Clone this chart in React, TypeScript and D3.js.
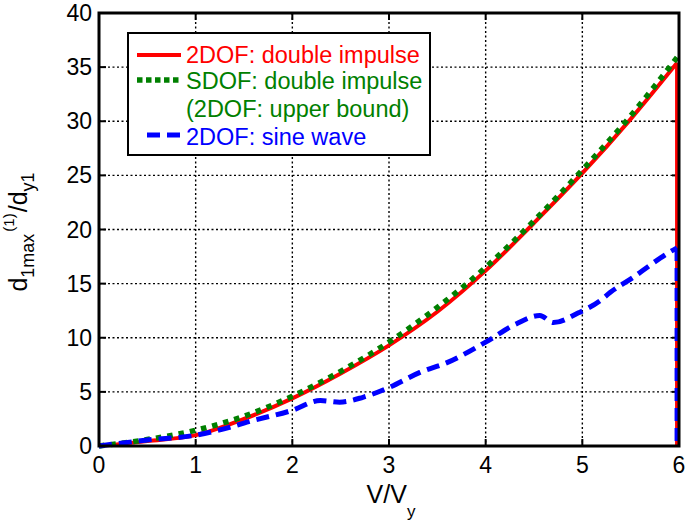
import React, { useEffect, useRef } from "react";
import * as d3 from "d3";

// V/Vy tick values and d/dy tick values
const xTicks = [0, 1, 2, 3, 4, 5, 6];
const yTicks = [0, 5, 10, 15, 20, 25, 30, 35, 40];

// 2DOF: double impulse
const impulse2dofV = [0, 0.5, 1, 1.5, 2, 2.5, 3, 3.5, 4, 4.5, 5, 5.5, 5.98];
const impulse2dofD = [0, 0.45, 1.0, 2.5, 4.4, 6.7, 9.3, 12.4, 16.2, 20.6, 25.2, 30.2, 35.4];

// SDOF: double impulse (2DOF: upper bound)
const impulseSdofV = [0, 0.5, 1, 1.5, 2, 2.5, 3, 3.5, 4, 4.5, 5, 5.5, 5.98];
const impulseSdofD = [0, 0.6, 1.45, 2.75, 4.6, 6.9, 9.6, 12.8, 16.5, 20.8, 25.5, 30.5, 35.9];

// 2DOF: sine wave
const sine2dofV = [
  0, 0.5, 1, 1.36, 1.53, 2, 2.29, 2.49, 2.73, 3, 3.32, 3.6, 4, 4.32, 4.56, 4.7,
  4.96, 5.18, 5.29, 5.53, 5.7, 5.9, 5.98,
];
const sine2dofD = [
  0, 0.55, 1.0, 1.75, 2.2, 3.3, 4.2, 4.05, 4.5, 5.4, 6.8, 7.7, 9.6, 11.3, 12.06,
  11.4, 12.3, 13.4, 14.2, 15.6, 16.7, 17.9, 18.3,
];

const W = 686;
const H = 526;
const plot = { left: 99, right: 679, top: 13, bottom: 446 };
const FONT = "'Liberation Sans', Arial, sans-serif";

const App: React.FC = () => {
  const svgRef = useRef<SVGSVGElement | null>(null);

  useEffect(() => {
    const svg = d3.select(svgRef.current);
    svg.selectAll("*").remove();

    const x = d3.scaleLinear().domain([0, 6]).range([plot.left, plot.right]);
    const y = d3.scaleLinear().domain([0, 40]).range([plot.bottom, plot.top]);

    svg
      .append("rect")
      .attr("width", W)
      .attr("height", H)
      .attr("fill", "#fff");

    // dotted grid
    const grid = svg.append("g").attr("stroke", "#000").attr("stroke-width", 1.4).attr("stroke-dasharray", "2,2.5");
    xTicks.slice(1, -1).forEach((t) => {
      grid.append("line").attr("x1", x(t)).attr("x2", x(t)).attr("y1", plot.top).attr("y2", plot.bottom);
    });
    yTicks.slice(1, -1).forEach((t) => {
      grid.append("line").attr("x1", plot.left).attr("x2", plot.right).attr("y1", y(t)).attr("y2", y(t));
    });

    // ticks, inward on all four sides
    const ticks = svg.append("g").attr("stroke", "#000").attr("stroke-width", 2);
    xTicks.forEach((t) => {
      ticks.append("line").attr("x1", x(t)).attr("x2", x(t)).attr("y1", plot.bottom).attr("y2", plot.bottom - 7);
      ticks.append("line").attr("x1", x(t)).attr("x2", x(t)).attr("y1", plot.top).attr("y2", plot.top + 7);
    });
    yTicks.forEach((t) => {
      ticks.append("line").attr("x1", plot.left).attr("x2", plot.left + 7).attr("y1", y(t)).attr("y2", y(t));
      ticks.append("line").attr("x1", plot.right).attr("x2", plot.right - 7).attr("y1", y(t)).attr("y2", y(t));
    });

    // tick labels
    svg
      .append("g")
      .selectAll("text")
      .data(xTicks)
      .join("text")
      .attr("x", (d) => x(d))
      .attr("y", 473)
      .attr("text-anchor", "middle")
      .style("font-family", FONT)
      .style("font-size", "23px")
      .text((d) => d);

    svg
      .append("g")
      .selectAll("text")
      .data(yTicks)
      .join("text")
      .attr("x", 92)
      .attr("y", (d) => y(d) + 8)
      .attr("text-anchor", "end")
      .style("font-family", FONT)
      .style("font-size", "23px")
      .text((d) => d);

    // curves
    const line = d3
      .line<[number, number]>()
      .x((d) => x(d[0]))
      .y((d) => y(d[1]))
      .curve(d3.curveMonotoneX);
    const straight = d3
      .line<[number, number]>()
      .x((d) => x(d[0]))
      .y((d) => y(d[1]));

    const zip = (vs: number[], ds: number[]) => vs.map((v, i) => [v, ds[i]] as [number, number]);
    const drop = (vs: number[], ds: number[]) => {
      const v = vs[vs.length - 1];
      return [
        [v, ds[ds.length - 1]],
        [v, 0],
      ] as [number, number][];
    };

    const lines = svg.append("g").attr("fill", "none");

    lines
      .append("path")
      .attr("d", line(zip(impulse2dofV, impulse2dofD)))
      .attr("stroke", "#f00")
      .attr("stroke-width", 4);
    lines
      .append("path")
      .attr("d", straight(drop(impulse2dofV, impulse2dofD)))
      .attr("stroke", "#f00")
      .attr("stroke-width", 4);

    lines
      .append("path")
      .attr("d", line(zip(impulseSdofV, impulseSdofD)))
      .attr("stroke", "#008000")
      .attr("stroke-width", 5.5)
      .attr("stroke-dasharray", "5.5,6");

    lines
      .append("path")
      .attr("d", line(zip(sine2dofV, sine2dofD)))
      .attr("stroke", "#0000ff")
      .attr("stroke-width", 5)
      .attr("stroke-dasharray", "13,7");
    lines
      .append("path")
      .attr("d", straight(drop(sine2dofV, sine2dofD)))
      .attr("stroke", "#0000ff")
      .attr("stroke-width", 5)
      .attr("stroke-dasharray", "13,7");

    // axes box
    svg
      .append("rect")
      .attr("x", plot.left)
      .attr("y", plot.top)
      .attr("width", plot.right - plot.left)
      .attr("height", plot.bottom - plot.top)
      .attr("fill", "none")
      .attr("stroke", "#000")
      .attr("stroke-width", 3);

    // axis labels
    const xl = svg
      .append("text")
      .attr("x", 391)
      .attr("y", 503)
      .attr("text-anchor", "middle")
      .style("font-family", FONT)
      .style("font-size", "25px");
    xl.append("tspan").text("V/V");
    xl.append("tspan").attr("dy", 14).style("font-size", "17px").text("y");

    const yl = svg
      .append("text")
      .attr("transform", "translate(27,232) rotate(-90)")
      .attr("text-anchor", "middle")
      .style("font-family", FONT)
      .style("font-size", "25px");
    yl.append("tspan").text("d");
    yl.append("tspan").attr("dy", 7).style("font-size", "18px").text("1max");
    yl.append("tspan").attr("dy", -20).attr("dx", 2).style("font-size", "15px").text("(1)");
    yl.append("tspan").attr("dy", 13).attr("dx", 1).text("/d");
    yl.append("tspan").attr("dy", 7).style("font-size", "18px").text("y1");

    // legend
    const legend = svg.append("g");
    legend
      .append("rect")
      .attr("x", 128)
      .attr("y", 33)
      .attr("width", 302)
      .attr("height", 122)
      .attr("fill", "#fff")
      .attr("stroke", "#000")
      .attr("stroke-width", 2);

    const items = [
      { y: 55, stroke: "#f00", width: 4, dash: null as string | null, x1: 137 },
      { y: 80, stroke: "#008000", width: 5.5, dash: "5.5,3.5", x1: 137 },
      { y: 135, stroke: "#0000ff", width: 5, dash: "13,7", x1: 147 },
    ];
    items.forEach((it) => {
      legend
        .append("line")
        .attr("x1", it.x1)
        .attr("x2", 181)
        .attr("y1", it.y)
        .attr("y2", it.y)
        .attr("stroke", it.stroke)
        .attr("stroke-width", it.width)
        .attr("stroke-dasharray", it.dash);
    });

    const texts = [
      { y: 63, color: "#f00", text: "2DOF: double impulse" },
      { y: 89, color: "#008000", text: "SDOF: double impulse" },
      { y: 117, color: "#008000", text: "(2DOF: upper bound)" },
      { y: 145, color: "#0000ff", text: "2DOF: sine wave" },
    ];
    legend
      .selectAll(".legend-text")
      .data(texts)
      .join("text")
      .attr("x", 186)
      .attr("y", (d) => d.y)
      .attr("fill", (d) => d.color)
      .style("font-family", FONT)
      .style("font-size", "23.5px")
      .text((d) => d.text);
  }, []);

  return (
    <div style={{ position: "absolute", left: 0, top: 0 }}>
      <svg ref={svgRef} width={W} height={H} style={{ display: "block" }} />
    </div>
  );
};

export default App;
